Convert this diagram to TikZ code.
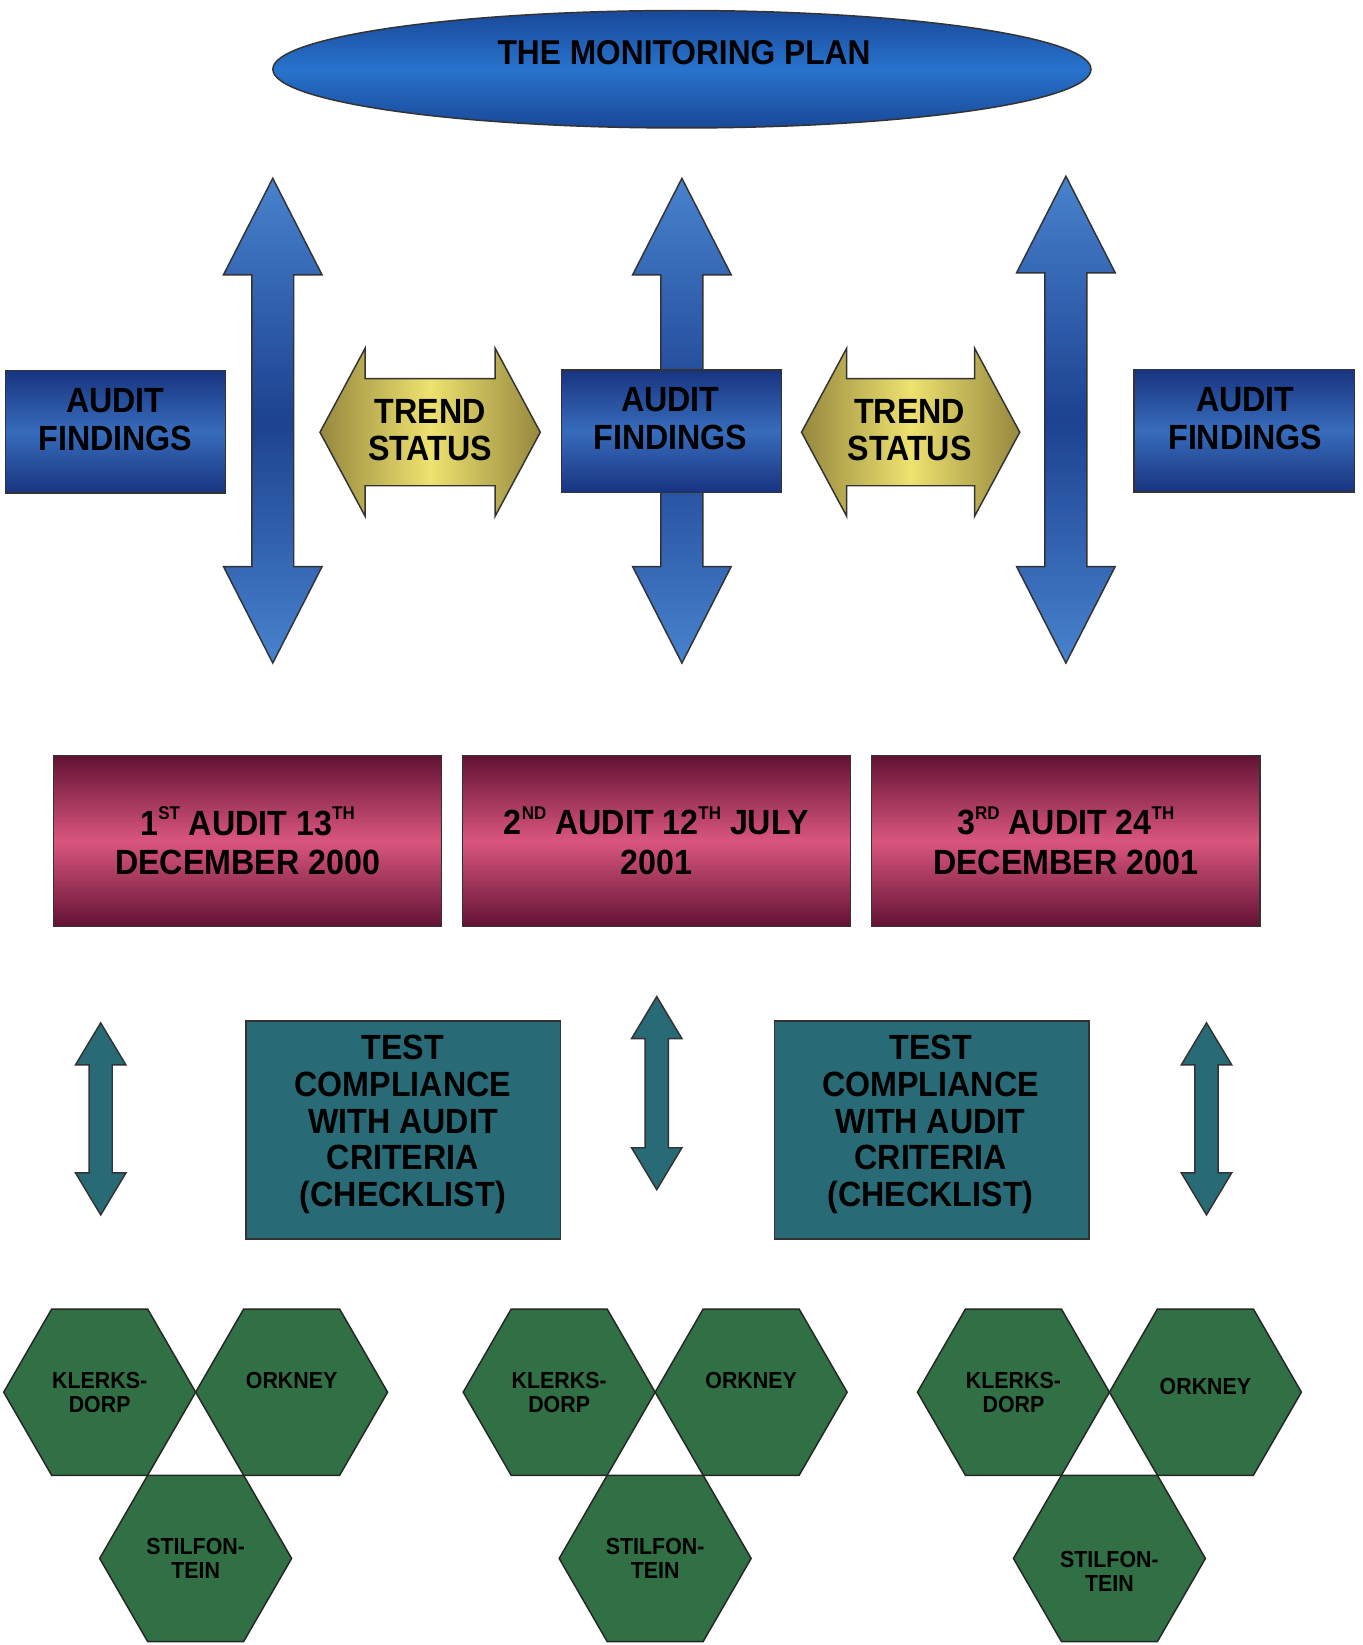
\documentclass[tikz,border=0pt]{standalone}
\usepackage{fontspec}
\setmainfont{Liberation Sans}[FakeStretch=0.92]
\usetikzlibrary{shapes.geometric,positioning,calc}

\definecolor{planblue}{RGB}{40,115,205}
\definecolor{plandark}{RGB}{25,72,152}
\definecolor{boxdark}{RGB}{24,52,128}
\definecolor{boxlight}{RGB}{55,108,188}
\definecolor{arrdark}{RGB}{28,66,145}
\definecolor{arrlight}{RGB}{72,130,205}
\definecolor{golddark}{RGB}{150,136,62}
\definecolor{goldlight}{RGB}{238,226,112}
\definecolor{auddark}{RGB}{98,18,52}
\definecolor{audlight}{RGB}{218,86,126}
\definecolor{testteal}{RGB}{40,106,118}
\definecolor{hexgreen}{RGB}{48,112,68}

% small raised ordinal letters
\newcommand{\ordsup}[1]{\raisebox{0.85ex}{\fontsize{10}{10}\selectfont #1}}
% vertical double arrow: style, x, top, bottom, head half width, shaft half width, head length
\newcommand{\vdarrow}[7]{%
  \draw[#1] (#2,#3) -- (#2+#5,#3+#7) -- (#2+#6,#3+#7) -- (#2+#6,#4-#7) -- (#2+#5,#4-#7)
    -- (#2,#4) -- (#2-#5,#4-#7) -- (#2-#6,#4-#7) -- (#2-#6,#3+#7) -- (#2-#5,#3+#7) -- cycle;}
% horizontal double arrow: style, y, left, right, head half height, shaft half height, head length
\newcommand{\hdarrow}[7]{%
  \draw[#1] (#3,#2) -- (#3+#7,#2-#5) -- (#3+#7,#2-#6) -- (#4-#7,#2-#6) -- (#4-#7,#2-#5)
    -- (#4,#2) -- (#4-#7,#2+#5) -- (#4-#7,#2+#6) -- (#3+#7,#2+#6) -- (#3+#7,#2+#5) -- cycle;}

\begin{document}
\begin{tikzpicture}[x=0.02cm, y=-0.02cm,
   plan/.style={ellipse, draw=black!80, line width=0.8pt, minimum width=15.6cm, minimum height=2.24cm,
      top color=plandark, bottom color=plandark, middle color=planblue},
   findbox/.style={rectangle, draw=black!80, line width=0.8pt, minimum width=4.2cm, minimum height=2.34cm,
      inner sep=0pt, outer sep=0pt, top color=boxdark, bottom color=boxdark, middle color=boxlight},
   auditbox/.style={rectangle, draw=black!80, line width=0.8pt, minimum width=7.4cm, minimum height=3.26cm,
      inner sep=0pt, outer sep=0pt, top color=auddark, bottom color=auddark, middle color=audlight},
   testbox/.style={rectangle, draw=black!80, line width=0.8pt, minimum width=6cm, minimum height=4.16cm,
      inner sep=0pt, outer sep=0pt, fill=testteal},
   hexcell/.style={regular polygon, regular polygon sides=6, minimum size=3.66cm, inner sep=0pt,
      outer sep=0pt, draw=black!85, line width=0.8pt, fill=hexgreen},
   bigtext/.style={align=center, inner sep=0pt, font=\bfseries\fontsize{19}{20.5}\selectfont},
   hextext/.style={align=center, inner sep=0pt, font=\bfseries\fontsize{12.6}{13.1}\selectfont},
   bigarrow/.style={draw=black!80, line width=0.8pt, top color=arrlight, bottom color=arrlight, middle color=arrdark},
   trendarrow/.style={draw=black!80, line width=0.8pt, left color=golddark, right color=golddark, middle color=goldlight},
   testarrow/.style={draw=black!80, line width=0.8pt, fill=testteal}]
\fill[white] (0,0) rectangle (1299,1568);

% the plan
\node[plan] (plan) at (650,66) {};
\node[bigtext, font=\bfseries\fontsize{18.7}{20}\selectfont] (plantext) at (652,50) {THE MONITORING PLAN};

% audit findings
\vdarrow{bigarrow}{260}{170}{632}{47}{20}{92}
\vdarrow{bigarrow}{650}{170}{632}{47}{20}{92}
\vdarrow{bigarrow}{1016}{168}{632}{47}{20}{92}
\node[findbox] (find1) at (110,411.5) {};
\node[findbox] (find2) at (640,411) {};
\node[findbox] (find3) at (1186,410.5) {};
\node[bigtext] (findtext1) at (110,400) {AUDIT\\FINDINGS};
\node[bigtext] (findtext2) at (639,399) {AUDIT\\FINDINGS};
\node[bigtext] (findtext3) at (1187,399) {AUDIT\\FINDINGS};

% trend status
\hdarrow{trendarrow}{412}{305}{515}{80}{51}{43}
\hdarrow{trendarrow}{412}{764}{972}{80}{51}{43}
\node[bigtext] (trend1) at (410,410) {TREND\\STATUS};
\node[bigtext] (trend2) at (867,410) {TREND\\STATUS};

% audits
\node[auditbox] (audit1) at (236,801.5) {};
\node[auditbox] (audit2) [right=0.4cm of audit1] {};
\node[auditbox] (audit3) [right=0.4cm of audit2] {};
\node[bigtext, font=\bfseries\fontsize{19}{21.6}\selectfont] (audittext1) at (audit1) {1\ordsup{ST} AUDIT 13\ordsup{TH}\\DECEMBER 2000};
\node[bigtext, font=\bfseries\fontsize{19}{21.6}\selectfont] (audittext2) at (audit2) {2\ordsup{ND} AUDIT 12\ordsup{TH} JULY\\2001};
\node[bigtext, font=\bfseries\fontsize{19}{21.6}\selectfont] (audittext3) at (audit3) {3\ordsup{RD} AUDIT 24\ordsup{TH}\\DECEMBER 2001};

% test compliance
\vdarrow{testarrow}{96}{975}{1158}{24}{11}{40}
\vdarrow{testarrow}{626}{950}{1134}{24}{11}{40}
\vdarrow{testarrow}{1150}{975}{1158}{24}{11}{40}
\node[testbox] (test1) at (384.5,1077) {};
\node[testbox] (test2) at (888,1077) {};
\node[bigtext, font=\bfseries\fontsize{19}{19.9}\selectfont] (testtext1) at (384,1072) {TEST\\COMPLIANCE\\WITH AUDIT\\CRITERIA\\(CHECKLIST)};
\node[bigtext, font=\bfseries\fontsize{19}{19.9}\selectfont] (testtext2) at (887,1072) {TEST\\COMPLIANCE\\WITH AUDIT\\CRITERIA\\(CHECKLIST)};

% mines
\node[hexcell] (klerks1) at (95,1327) {};
\node[hexcell] (orkney1) [right=0cm of klerks1] {};
\coordinate (mid1) at ($(klerks1.south)!0.5!(orkney1.south)$);
\node[hexcell] (stil1) [below=0cm of mid1] {};
\node[hexcell] (klerks2) at (533,1327) {};
\node[hexcell] (orkney2) [right=0cm of klerks2] {};
\coordinate (mid2) at ($(klerks2.south)!0.5!(orkney2.south)$);
\node[hexcell] (stil2) [below=0cm of mid2] {};
\node[hexcell] (klerks3) at (966,1327) {};
\node[hexcell] (orkney3) [right=0cm of klerks3] {};
\coordinate (mid3) at ($(klerks3.south)!0.5!(orkney3.south)$);
\node[hexcell] (stil3) [below=0cm of mid3] {};

\node[hextext] (klerkstext1) at (klerks1) {KLERKS-\\DORP};
\node[hextext] (orkneytext1) at ($(orkney1)+(0,-11)$) {ORKNEY};
\node[hextext] (stiltext1) at (stil1) {STILFON-\\TEIN};
\node[hextext] (klerkstext2) at (klerks2) {KLERKS-\\DORP};
\node[hextext] (orkneytext2) at ($(orkney2)+(0,-11)$) {ORKNEY};
\node[hextext] (stiltext2) at (stil2) {STILFON-\\TEIN};
\node[hextext] (klerkstext3) at (klerks3) {KLERKS-\\DORP};
\node[hextext] (orkneytext3) at ($(orkney3)+(0,-5)$) {ORKNEY};
\node[hextext] (stiltext3) at ($(stil3)+(0,12)$) {STILFON-\\TEIN};
\end{tikzpicture}
\end{document}
